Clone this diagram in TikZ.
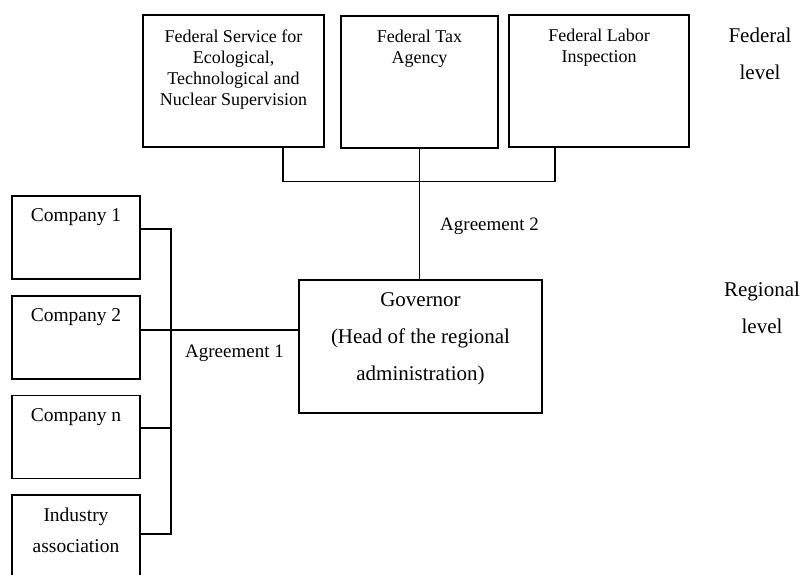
\documentclass[tikz,border=0pt]{standalone}
\usepackage{fontspec}
\setmainfont{Liberation Serif}

\begin{document}
\begin{tikzpicture}[x=1pt, y=1pt,
    box/.style={draw, line width=1.4pt, inner sep=0pt},
    boxtext/.style={anchor=north, inner sep=0pt, align=center},
    toptext/.style={boxtext, font=\fontsize{18}{21}\selectfont},
    comptext/.style={boxtext, font=\fontsize{19.5}{31}\selectfont},
    govtext/.style={boxtext, font=\fontsize{21}{37}\selectfont},
    leveltext/.style={boxtext, font=\fontsize{21}{37}\selectfont},
    agrtext/.style={anchor=base west, inner sep=0pt, font=\fontsize{19}{22}\selectfont},
    link/.style={line width=1.2pt}]

    % Area del disegno
    \useasboundingbox (0, 0) rectangle (802, 574);
    \clip (0, 0) rectangle (802, 574);

    % Livello federale
    \node[box, minimum width=181pt, minimum height=132pt] (fsb) at (233.5, 493) {};
    \node[box, minimum width=157pt, minimum height=132pt] (fta) at (419.5, 492) {};
    \node[box, minimum width=180pt, minimum height=132pt] (fli) at (599, 493) {};
    \node[toptext] (fsbtext) at ([yshift=-15pt]fsb.north) {Federal Service for\\Ecological,\\Technological and\\Nuclear Supervision};
    \node[toptext] (ftatext) at ([yshift=-15pt]fta.north) {Federal Tax\\Agency};
    \node[toptext] (flitext) at ([yshift=-15pt]fli.north) {Federal Labor\\Inspection};

    % Governatore
    \node[box, minimum width=243pt, minimum height=133pt] (gov) at (420.5, 227.5) {};
    \node[govtext] (govtext) at ([yshift=-12.8pt]gov.north) {Governor\\(Head of the regional\\administration)};

    % Imprese e associazione
    \node[box, minimum width=128pt, minimum height=83pt] (c1) at (76, 336.5) {};
    \node[box, minimum width=128pt, minimum height=83pt] (c2) at (76, 236.5) {};
    \node[box, minimum width=128pt, minimum height=83pt] (cn) at (76, 137) {};
    \node[box, minimum width=128pt, minimum height=83pt] (ia) at (76, 37.5) {};
    \node[comptext] (c1text) at ([yshift=-13.5pt]c1.north) {Company 1};
    \node[comptext] (c2text) at ([yshift=-13.5pt]c2.north) {Company 2};
    \node[comptext] (cntext) at ([yshift=-13.5pt]cn.north) {Company n};
    \node[comptext] (iatext) at ([yshift=-13.7pt]ia.north) {Industry\\association};

    % Collegamenti
    \coordinate (lbus) at (171, 0);
    \draw[link] ([xshift=49.5pt]fsb.south) -- ++(0, -34) -| ([xshift=-44pt]fli.south);
    \draw[link] (fta.south) -- (fta.south |- gov.north);
    \draw[link] ([yshift=8.5pt]c1.east) -| ([yshift=2.5pt]ia.east -| lbus) -- ([yshift=2.5pt]ia.east);
    \draw[link] ([yshift=9pt]cn.east) -- ([yshift=9pt]cn.east -| lbus);
    \draw[link] ([yshift=7.5pt]c2.east) -- ([yshift=7.5pt]c2.east -| gov.west);

    % Etichette
    \node[agrtext] (agr2) at (440, 344) {Agreement 2};
    \node[agrtext] (agr1) at (185, 217) {Agreement 1};
    \node[leveltext] (fedlevel) at (760, 546) {Federal\\level};
    \node[leveltext] (reglevel) at (762, 292) {Regional\\level};

\end{tikzpicture}
\end{document}
